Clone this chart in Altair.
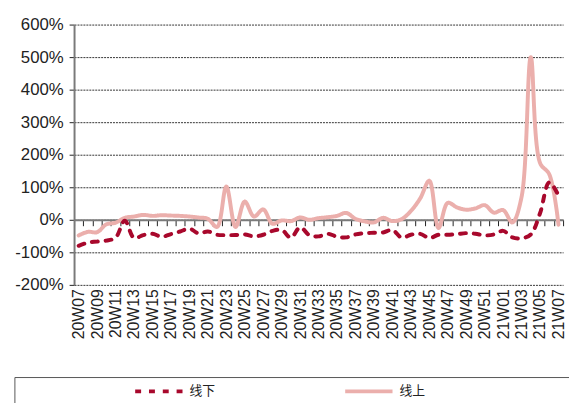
import altair as alt
import pandas as pd

weeks = [
    "20W07", "20W08", "20W09", "20W10", "20W11", "20W12", "20W13", "20W14", "20W15", "20W16",
    "20W17", "20W18", "20W19", "20W20", "20W21", "20W22", "20W23", "20W24", "20W25", "20W26",
    "20W27", "20W28", "20W29", "20W30", "20W31", "20W32", "20W33", "20W34", "20W35", "20W36",
    "20W37", "20W38", "20W39", "20W40", "20W41", "20W42", "20W43", "20W44", "20W45", "20W46",
    "20W47", "20W48", "20W49", "20W50", "20W51", "20W52",
    "21W01", "21W02", "21W03", "21W04", "21W05", "21W06", "21W07",
]

# 线下 (offline), percent
offline = [
    -80, -70, -67, -64, -55, -3, -56, -47, -43, -52,
    -44, -36, -27, -42, -36, -46, -47, -47, -45, -51,
    -46, -34, -31, -55, -23, -47, -51, -43, -52, -54,
    -45, -41, -40, -39, -31, -55, -46, -43, -56, -46,
    -46, -44, -41, -43, -48, -45,
    -34, -54, -57, -45, 20, 115, 75,
]

# 线上 (online), percent
online = [
    -48, -37, -38, -14, -9, 6, 10, 15, 12, 14,
    13, 12, 10, 7, 3, -22, 102, -22, 56, 10,
    32, -12, -2, -4, 7, 0, 5, 8, 12, 21,
    3, -5, -8, 6, -4, 2, 27, 65, 120, -25,
    52, 38, 31, 35, 45, 22,
    30, -8, 70, 500, 175, 140, -15,
]

series_names = ["线下", "线上"]
series_colors = ["#A8082C", "#EBAFAC"]
y_ticks = [-200, -100, 0, 100, 200, 300, 400, 500, 600]

rows = []
for i, w in enumerate(weeks):
    rows.append({"week": w, "series": "线下", "value": offline[i]})
    rows.append({"week": w, "series": "线上", "value": online[i]})
df = pd.DataFrame(rows)

legend = alt.Legend(
    title=None,
    orient="none",
    legendX=60,
    legendY=346,
    direction="horizontal",
    columns=2,
    symbolType="stroke",
    symbolSize=2304,
    symbolStrokeWidth=4,
    labelFont="Noto Sans CJK SC",
    labelFontSize=13,
    labelColor="#222222",
    labelOffset=5,
    columnPadding=123,
)

color_enc = alt.Color(
    "series:N",
    scale=alt.Scale(domain=series_names, range=series_colors),
    legend=legend,
)
dash_enc = alt.StrokeDash(
    "series:N",
    scale=alt.Scale(domain=series_names, range=[[6, 8], [1, 0]]),
    legend=legend,
)

x_enc = alt.X(
    "week:N",
    sort=weeks,
    scale=alt.Scale(type="band", paddingInner=0, paddingOuter=0),
    axis=alt.Axis(
        title=None,
        offset=-66,
        labelExpr="toNumber(substring(datum.label, 3, 5)) % 2 == 1 ? datum.label : ''",
        labelAngle=-90,
        labelPadding=64,
        labelFont="Liberation Sans",
        labelFontSize=16,
        labelColor="#222222",
        labelOverlap=False,
        tickSize=6,
        tickBand="extent",
        tickColor="#222222",
        domainColor="#7a7a7a",
        domainWidth=2,
        grid=False,
    ),
)
y_enc = alt.Y(
    "value:Q",
    scale=alt.Scale(domain=[-200, 600], nice=False, zero=False),
    axis=alt.Axis(
        title=None,
        values=y_ticks,
        labelExpr="datum.value + '%'",
        labelFont="Liberation Sans",
        labelFontSize=17,
        labelColor="#222222",
        labelPadding=6,
        tickSize=5,
        tickColor="#222222",
        domainColor="#7a7a7a",
        domainWidth=2,
        grid=True,
        gridDash=[2, 1],
        gridColor="#333333",
        gridWidth=1,
    ),
)

base = alt.Chart(df)

online_line = base.transform_filter(alt.datum.series == "线上").mark_line(
    strokeWidth=4, interpolate="catmull-rom", strokeCap="round"
).encode(x=x_enc, y=y_enc, color=color_enc, strokeDash=dash_enc)

offline_line = base.transform_filter(alt.datum.series == "线下").mark_line(
    strokeWidth=4, interpolate="catmull-rom", strokeCap="round"
).encode(x=x_enc, y=y_enc, color=color_enc, strokeDash=dash_enc)

frame = alt.Chart(pd.DataFrame({"k": [0]})).mark_rect(
    fill="white", fillOpacity=0, stroke="#555555", strokeWidth=1
).encode(
    x=alt.value(-60), x2=alt.value(530), y=alt.value(358), y2=alt.value(430)
)

chart = alt.layer(frame, online_line, offline_line).properties(
    width=496,
    height=264,
    autosize=alt.AutoSizeParams(type="none"),
    padding={"left": 67, "top": 14, "right": 6, "bottom": 117},
).configure_view(strokeWidth=0)

chart.save("out.html", embed_options={"renderer": "svg", "actions": False})
